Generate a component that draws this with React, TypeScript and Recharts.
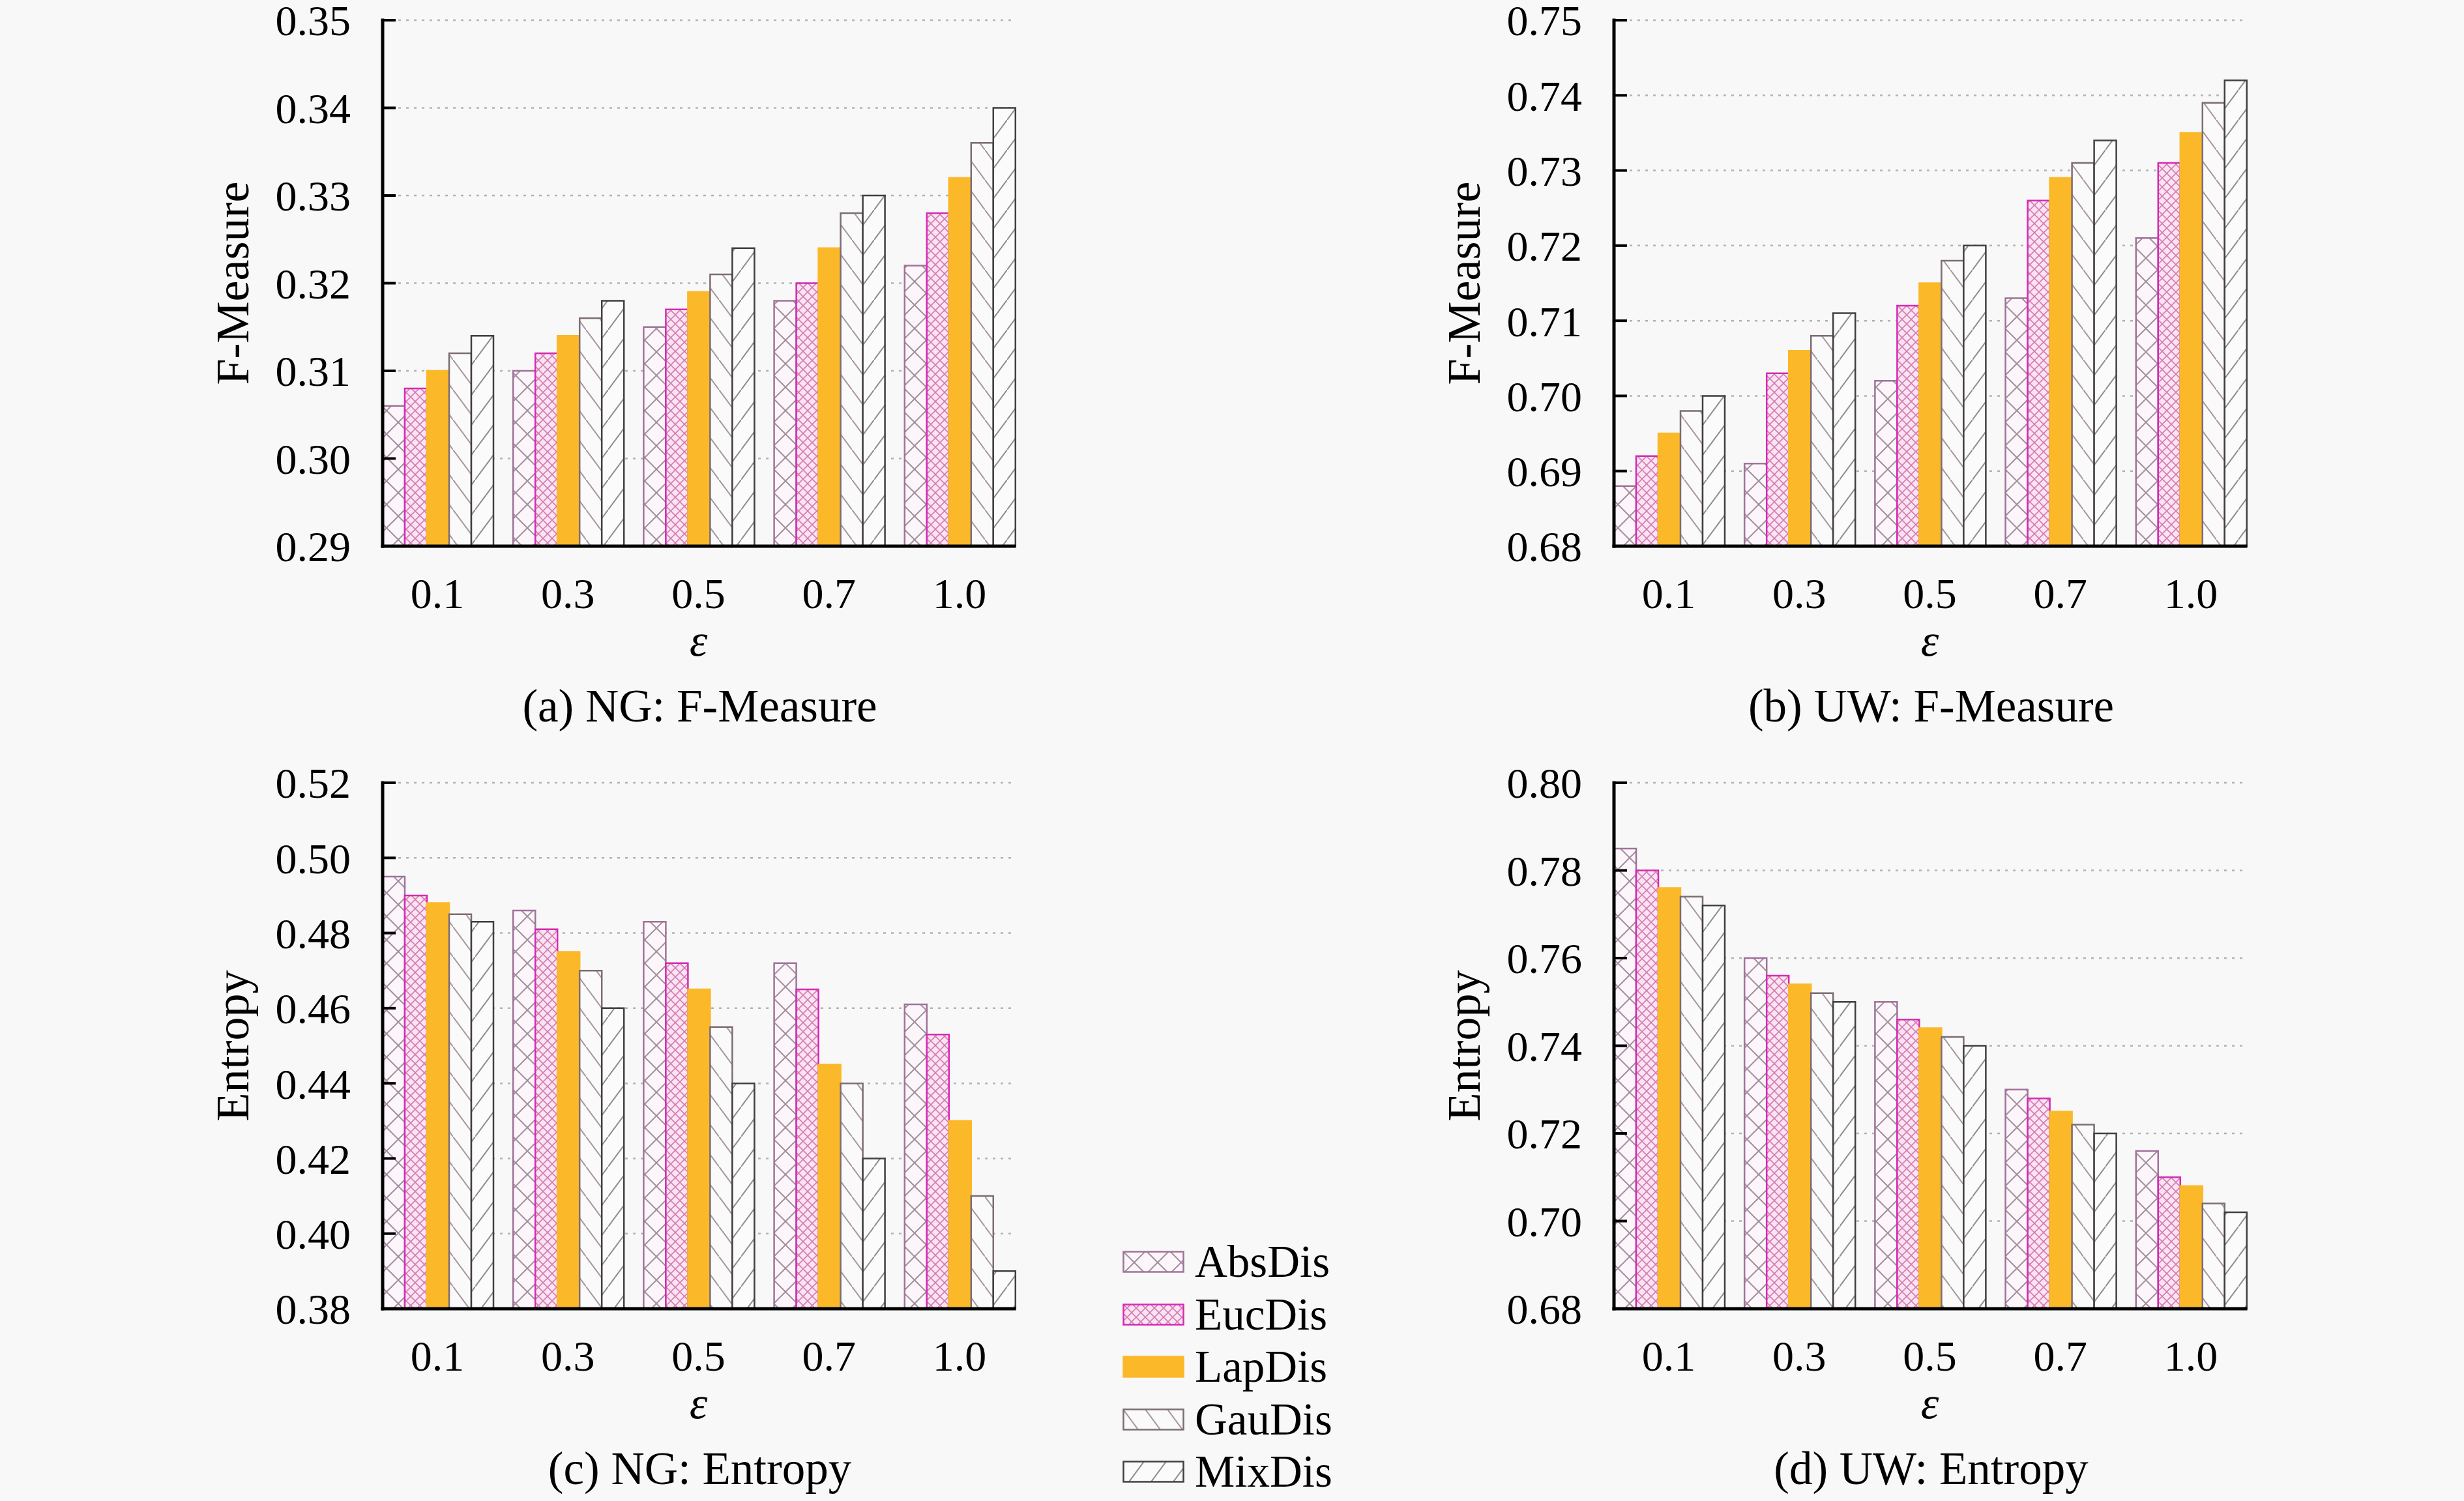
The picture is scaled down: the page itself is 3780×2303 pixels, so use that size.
import React from "react";
import { BarChart, Bar, XAxis, YAxis, CartesianGrid, Legend } from "recharts";

// epsilon values on the x axis
const categories = ["0.1", "0.3", "0.5", "0.7", "1.0"];
const seriesNames = ["AbsDis", "EucDis", "LapDis", "GauDis", "MixDis"];

// (a) NG: F-Measure
const ngFAbs = [0.306, 0.31, 0.315, 0.318, 0.322];
const ngFEuc = [0.308, 0.312, 0.317, 0.32, 0.328];
const ngFLap = [0.31, 0.314, 0.319, 0.324, 0.332];
const ngFGau = [0.312, 0.316, 0.321, 0.328, 0.336];
const ngFMix = [0.314, 0.318, 0.324, 0.33, 0.34];

// (b) UW: F-Measure
const uwFAbs = [0.688, 0.691, 0.702, 0.713, 0.721];
const uwFEuc = [0.692, 0.703, 0.712, 0.726, 0.731];
const uwFLap = [0.695, 0.706, 0.715, 0.729, 0.735];
const uwFGau = [0.698, 0.708, 0.718, 0.731, 0.739];
const uwFMix = [0.7, 0.711, 0.72, 0.734, 0.742];

// (c) NG: Entropy
const ngEAbs = [0.495, 0.486, 0.483, 0.472, 0.461];
const ngEEuc = [0.49, 0.481, 0.472, 0.465, 0.453];
const ngELap = [0.488, 0.475, 0.465, 0.445, 0.43];
const ngEGau = [0.485, 0.47, 0.455, 0.44, 0.41];
const ngEMix = [0.483, 0.46, 0.44, 0.42, 0.39];

// (d) UW: Entropy
const uwEAbs = [0.785, 0.76, 0.75, 0.73, 0.716];
const uwEEuc = [0.78, 0.756, 0.746, 0.728, 0.71];
const uwELap = [0.776, 0.754, 0.744, 0.725, 0.708];
const uwEGau = [0.774, 0.752, 0.742, 0.722, 0.704];
const uwEMix = [0.772, 0.75, 0.74, 0.72, 0.702];

// y tick labels
const ticksNgF = [0.29, 0.3, 0.31, 0.32, 0.33, 0.34, 0.35];
const ticksUwF = [0.68, 0.69, 0.7, 0.71, 0.72, 0.73, 0.74, 0.75];
const ticksNgE = [0.38, 0.4, 0.42, 0.44, 0.46, 0.48, 0.5, 0.52];
const ticksUwE = [0.68, 0.7, 0.72, 0.74, 0.76, 0.78, 0.8];

const buildRows = (cols: number[][]) =>
  categories.map((eps, i) => {
    const row: Record<string, any> = { eps };
    seriesNames.forEach((s, k) => {
      row[s] = cols[k][i];
    });
    return row;
  });

const seriesStyle: Record<string, { fill: string; stroke: string }> = {
  AbsDis: { fill: "url(#patAbs)", stroke: "#a0729a" },
  EucDis: { fill: "url(#patEuc)", stroke: "#d62ab4" },
  LapDis: { fill: "#fbb829", stroke: "#fbb829" },
  GauDis: { fill: "url(#patGau)", stroke: "#7c6c74" },
  MixDis: { fill: "url(#patMix)", stroke: "#404040" },
};

const FONT = 66;
const LABEL_FONT = 70;
const GAP = 16;

function Patterns() {
  return (
    <svg width={1} height={1} style={{ position: "absolute", left: 0, top: 0 }}>
      <defs>
        <pattern id="patAbs" patternUnits="userSpaceOnUse" width={36} height={36}>
          <rect width={36} height={36} fill="#fcf6fb" />
          <path d="M0,0 L36,36 M36,0 L0,36" stroke="#a3909f" strokeWidth={2} />
        </pattern>
        <pattern id="patEuc" patternUnits="userSpaceOnUse" width={14} height={14}>
          <rect width={14} height={14} fill="#fbe4f2" />
          <path d="M0,0 L14,14 M14,0 L0,14" stroke="#d47cb4" strokeWidth={1.6} />
        </pattern>
        <pattern id="patGau" patternUnits="userSpaceOnUse" width={34} height={46}>
          <rect width={34} height={46} fill="#fbfafa" />
          <path d="M-3.4,-4.6 L37.4,50.6" stroke="#a8979f" strokeWidth={2} />
        </pattern>
        <pattern id="patMix" patternUnits="userSpaceOnUse" width={34} height={46}>
          <rect width={34} height={46} fill="#fbfbfb" />
          <path d="M-3.4,50.6 L37.4,-4.6" stroke="#8e8e8e" strokeWidth={2} />
        </pattern>
      </defs>
    </svg>
  );
}

function LegendContent(props: any) {
  // keep the series order, not the alphabetical one
  const payload = [...(props.payload || [])].sort(
    (a: any, b: any) => seriesNames.indexOf(a.value) - seriesNames.indexOf(b.value)
  );
  return (
    <div>
      {payload.map((entry: any) => {
        const st = seriesStyle[entry.value] || seriesStyle.LapDis;
        return (
          <div key={entry.value} style={{ display: "flex", alignItems: "center", height: 80.5 }}>
            <svg width={95} height={34}>
              <rect x={1.5} y={1.5} width={92} height={31} fill={st.fill} stroke={st.stroke} strokeWidth={2.5} />
            </svg>
            <span style={{ marginLeft: 16, fontSize: 69, lineHeight: "70px", color: "#000" }}>
              {entry.value}
            </span>
          </div>
        );
      })}
    </div>
  );
}

type PanelProps = {
  left: number;
  top: number;
  topMargin: number;
  width: number;
  rightMargin: number;
  data: Record<string, any>[];
  domain: [number, number];
  ticks: number[];
  yLabel: string;
  caption: string;
  legend?: { left: number; top: number };
};

function Panel({ left, top, topMargin, width, rightMargin, data, domain, ticks, yLabel, caption, legend }: PanelProps) {
  const frame = { stroke: "#000", strokeWidth: 5, strokeLinecap: "square" as const };
  const tickLine = { stroke: "#000", strokeWidth: 4 };

  const bottomLabels = (p: any) => {
    const vb = p.viewBox || { x: 0, y: 0, width: 0 };
    const cx = vb.x + vb.width / 2;
    return (
      <g>
        <text x={cx} y={vb.y + 168} textAnchor="middle" fontStyle="italic" fontSize={LABEL_FONT} fill="#000">
          ε
        </text>
        <text x={cx + 2} y={vb.y + 269} textAnchor="middle" fontSize={71} fill="#000">
          {caption}
        </text>
      </g>
    );
  };

  const sideLabel = (p: any) => {
    const vb = p.viewBox || { x: 0, y: 0, width: 0, height: 0 };
    const x = vb.x + vb.width - 230;
    const y = vb.y + vb.height / 2;
    return (
      <text
        x={x}
        y={y}
        transform={`rotate(-90, ${x}, ${y})`}
        textAnchor="middle"
        dominantBaseline="central"
        fontSize={72}
        fill="#000"
      >
        {yLabel}
      </text>
    );
  };

  return (
    <div style={{ position: "absolute", left, top }}>
      <BarChart
        width={width}
        height={topMargin + 807 + 290}
        data={data}
        margin={{ top: topMargin, right: rightMargin, bottom: 0, left: 0 }}
        barCategoryGap={GAP}
        barGap={0}
      >
        <CartesianGrid horizontal vertical={false} stroke="#b2b2b2" strokeWidth={2.5} strokeDasharray="4 8" />
        {seriesNames.map((s) => (
          <Bar
            key={s}
            dataKey={s}
            name={s}
            fill={seriesStyle[s].fill}
            stroke={seriesStyle[s].stroke}
            strokeWidth={2.5}
            isAnimationActive={false}
          />
        ))}
        <XAxis
          dataKey="eps"
          interval={0}
          padding={{ left: -GAP, right: -GAP }}
          height={290}
          tickLine={false}
          tickSize={0}
          tickMargin={48}
          axisLine={frame}
          tick={{ fill: "#000", fontSize: FONT }}
          label={bottomLabels}
        />
        <XAxis
          xAxisId="top"
          orientation="top"
          dataKey="eps"
          interval={0}
          padding={{ left: -GAP, right: -GAP }}
          height={0}
          tick={false}
          tickSize={-20}
          tickLine={tickLine}
          axisLine={frame}
        />
        <YAxis
          width={300}
          domain={domain}
          ticks={ticks}
          interval={0}
          tickSize={-20}
          tickMargin={69}
          tickLine={tickLine}
          axisLine={frame}
          tick={{ fill: "#000", fontSize: FONT }}
          tickFormatter={(v: number) => v.toFixed(2)}
          label={sideLabel}
        />
        <YAxis
          yAxisId="right"
          orientation="right"
          width={0}
          domain={domain}
          ticks={ticks}
          interval={0}
          tick={false}
          tickSize={-20}
          tickLine={tickLine}
          axisLine={frame}
        />
        {legend && (
          <Legend
            layout="vertical"
            align="center"
            verticalAlign="middle"
            itemSorter={null as any}
            content={<LegendContent />}
            wrapperStyle={{ left: legend.left, top: legend.top, width: 520, height: 410 }}
          />
        )}
      </BarChart>
    </div>
  );
}

export default function App() {
  const ngF = buildRows([ngFAbs, ngFEuc, ngFLap, ngFGau, ngFMix]);
  const uwF = buildRows([uwFAbs, uwFEuc, uwFLap, uwFGau, uwFMix]);
  const ngE = buildRows([ngEAbs, ngEEuc, ngELap, ngEGau, ngEMix]);
  const uwE = buildRows([uwEAbs, uwEEuc, uwELap, uwEGau, uwEMix]);

  return (
    <div
      style={{
        position: "absolute",
        left: 0,
        top: 0,
        width: 3780,
        height: 2303,
        overflow: "hidden",
        background: "#f8f8f8",
        fontFamily: '"Liberation Serif", "DejaVu Serif", serif',
      }}
    >
      <Patterns />
      <Panel
        left={287}
        top={0}
        topMargin={31}
        width={1289}
        rightMargin={20}
        data={ngF}
        domain={[0.29, 0.35]}
        ticks={ticksNgF}
        yLabel="F-Measure"
        caption="(a) NG: F-Measure"
      />
      <Panel
        left={2176}
        top={0}
        topMargin={31}
        width={1289}
        rightMargin={20}
        data={uwF}
        domain={[0.68, 0.75]}
        ticks={ticksUwF}
        yLabel="F-Measure"
        caption="(b) UW: F-Measure"
      />
      <Panel
        left={287}
        top={1100}
        topMargin={101}
        width={1870}
        rightMargin={601}
        data={ngE}
        domain={[0.38, 0.52]}
        ticks={ticksNgE}
        yLabel="Entropy"
        caption="(c) NG: Entropy"
        legend={{ left: 1435, top: 796 }}
      />
      <Panel
        left={2176}
        top={1100}
        topMargin={101}
        width={1289}
        rightMargin={20}
        data={uwE}
        domain={[0.68, 0.8]}
        ticks={ticksUwE}
        yLabel="Entropy"
        caption="(d) UW: Entropy"
      />
    </div>
  );
}
